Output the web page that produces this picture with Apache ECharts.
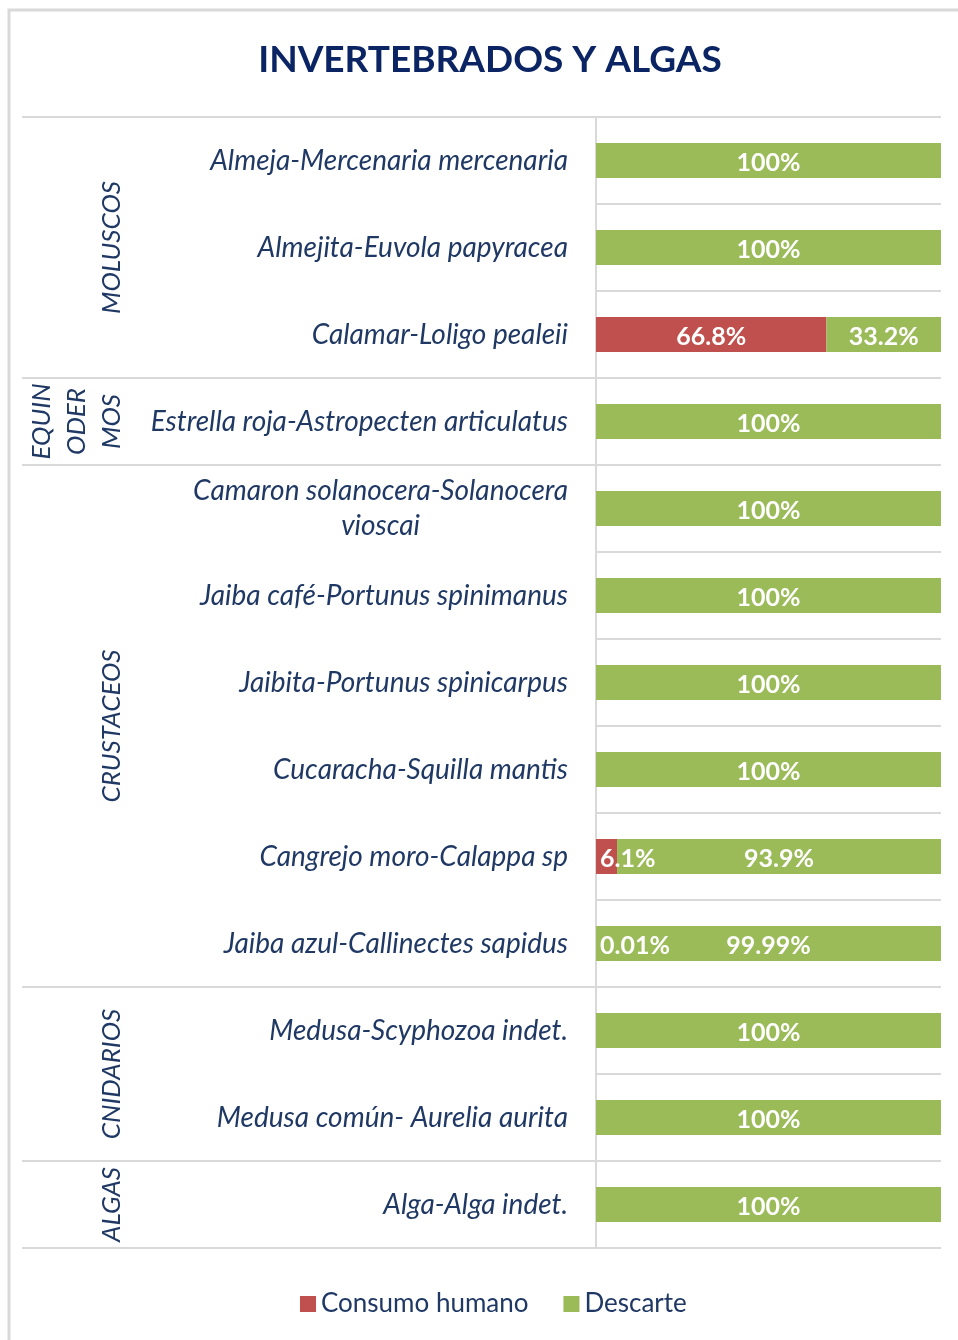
<!DOCTYPE html>
<html>
<head>
<meta charset="utf-8">
<script src="https://cdn.jsdelivr.net/npm/echarts@6/dist/echarts.min.js"></script>
<style>
  html, body { margin: 0; padding: 0; background: #fff; }
  #chart { width: 958px; height: 1340px; }
</style>
</head>
<body>
<div id="chart"></div>
<script>
// categories, top to bottom
const especies = [
  'Almeja-Mercenaria mercenaria',
  'Almejita-Euvola papyracea',
  'Calamar-Loligo pealeii',
  'Estrella roja-Astropecten articulatus',
  'Camaron solanocera-Solanocera\nvioscai',
  'Jaiba café-Portunus spinimanus',
  'Jaibita-Portunus spinicarpus',
  'Cucaracha-Squilla mantis',
  'Cangrejo moro-Calappa sp',
  'Jaiba azul-Callinectes sapidus',
  'Medusa-Scyphozoa indet.',
  'Medusa común- Aurelia aurita',
  'Alga-Alga indet.'
];
// group names and how many categories each covers
const grupos = ['MOLUSCOS', 'EQUIN\nODER\nMOS', 'CRUSTACEOS', 'CNIDARIOS', 'ALGAS'];
const grupoN = [3, 1, 6, 2, 1];

const consumo  = [0, 0, 66.8, 0, 0, 0, 0, 0, 6.1, 0.01, 0, 0, 0];
const descarte = [100, 100, 33.2, 100, 100, 100, 100, 100, 93.9, 99.99, 100, 100, 100];

const NAVY = '#1f3864';
const FONT = 'Lato';
const LINE = '#d9d9d9';
const CAT_SIZE = 28;

// width of widest line, so wrapped labels can be centred line by line
const ctx = document.createElement('canvas').getContext('2d');
ctx.font = 'italic ' + CAT_SIZE + 'px ' + FONT;
function widest(txt) {
  return Math.max(...txt.split('\n').map(s => ctx.measureText(s).width));
}

const chart = echarts.init(document.getElementById('chart'));

function pctLabel(p) {
  return p.value > 0 ? p.value + '%' : '';
}

const labelBase = {
  show: true,
  color: '#fff',
  fontFamily: FONT,
  fontWeight: 'bold',
  fontSize: 25,
  offset: [0, 2],
  formatter: pctLabel
};

const option = {
  animation: false,
  title: {
    text: 'INVERTEBRADOS Y ALGAS',
    left: 490,
    top: 42,
    padding: 0,
    textAlign: 'center',
    textStyle: { color: '#0b2463', fontFamily: FONT, fontWeight: 'bold', fontSize: 37 }
  },
  legend: {
    left: 295,
    top: 1286,
    itemWidth: 16,
    itemHeight: 16,
    itemGap: 35,
    icon: 'rect',
    textStyle: { color: NAVY, fontFamily: FONT, fontSize: 26 },
    data: ['Consumo humano', 'Descarte']
  },
  grid: { left: 596, right: 17, top: 117, bottom: 92 },
  xAxis: { type: 'value', min: 0, max: 100, show: false },
  yAxis: {
    type: 'category',
    inverse: true,
    data: especies,
    axisLine: { show: true, lineStyle: { color: LINE, width: 2 } },
    axisTick: { show: false },
    splitLine: { show: true, interval: 0, lineStyle: { color: LINE, width: 2 } },
    axisLabel: {
      interval: 0,
      margin: 28,
      color: NAVY,
      fontFamily: FONT,
      fontStyle: 'italic',
      fontSize: CAT_SIZE,
      formatter: function (v) {
        if (v.indexOf('\n') < 0) return v;
        return v.split('\n').map(s => '{c|' + s + '}').join('\n');
      },
      rich: {
        c: {
          width: widest(especies[4]),
          align: 'center',
          lineHeight: 35,
          color: NAVY,
          fontFamily: FONT,
          fontStyle: 'italic',
          fontSize: CAT_SIZE
        }
      }
    }
  },
  series: [
    {
      name: 'Consumo humano',
      type: 'bar',
      stack: 'total',
      barWidth: 35,
      itemStyle: { color: '#c0504d' },
      data: consumo.map(v => ({
        value: v,
        label: v < 10 ? { position: 'insideLeft', distance: 4 } : {}
      })),
      label: labelBase
    },
    {
      name: 'Descarte',
      type: 'bar',
      stack: 'total',
      barWidth: 35,
      itemStyle: { color: '#9bbb59' },
      data: descarte,
      label: labelBase
    }
  ]
};

chart.setOption(option);

// group separators and group labels, placed from the category scale
const c0 = chart.convertToPixel({ yAxisIndex: 0 }, especies[0]);
const c1 = chart.convertToPixel({ yAxisIndex: 0 }, especies[1]);
const band = c1 - c0;
function edge(i) { return c0 - band / 2 + i * band; }

const gx = option.grid.left;
const graphics = [
  {
    type: 'rect',
    silent: true,
    shape: { x: 9, y: 10, width: 1100, height: 1500 },
    style: { fill: 'none', stroke: LINE, lineWidth: 3 }
  }
];
let start = 0;
graphics.push({
  type: 'line', silent: true,
  shape: { x1: 22, y1: edge(0), x2: gx, y2: edge(0) },
  style: { stroke: LINE, lineWidth: 2 }
});
grupos.forEach((g, k) => {
  const end = start + grupoN[k];
  graphics.push({
    type: 'line', silent: true,
    shape: { x1: 22, y1: edge(end), x2: gx, y2: edge(end) },
    style: { stroke: LINE, lineWidth: 2 }
  });
  graphics.push({
    type: 'text', silent: true,
    x: 129,
    y: (edge(start) + edge(end)) / 2,
    rotation: Math.PI / 2,
    style: {
      text: g,
      fill: NAVY,
      fontFamily: FONT,
      fontStyle: 'italic',
      fontSize: 26,
      lineHeight: 35,
      align: 'center',
      verticalAlign: 'bottom'
    }
  });
  start = end;
});

chart.setOption({ graphic: graphics });
</script>
</body>
</html>
